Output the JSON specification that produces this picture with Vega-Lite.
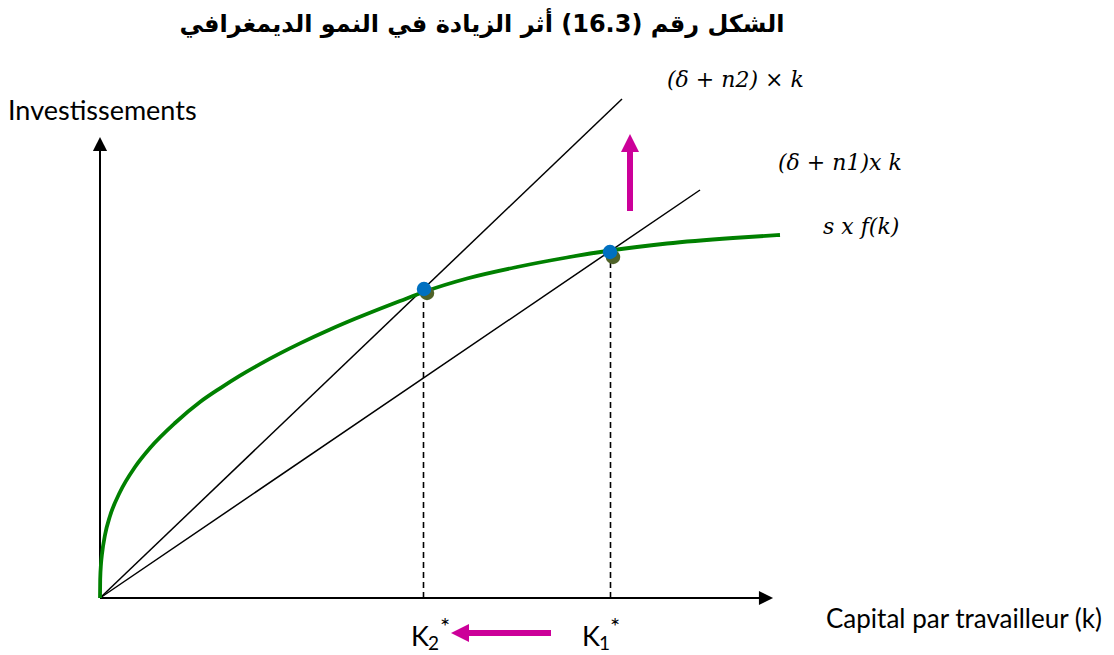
{
  "$schema": "https://vega.github.io/schema/vega-lite/v6.json",
  "width": 1114,
  "height": 655,
  "autosize": {"type": "fit", "contains": "padding"},
  "padding": 0,
  "background": "white",
  "config": {"view": {"stroke": null}},
  "datasets": {
    "curve": [
      {"k": 0, "y": 0}, {"k": 0.2, "y": 18.5}, {"k": 1, "y": 34}, {"k": 2, "y": 44}, {"k": 5, "y": 63},
      {"k": 10, "y": 82}, {"k": 20, "y": 106}, {"k": 35, "y": 131}, {"k": 50, "y": 150},
      {"k": 75, "y": 175}, {"k": 100, "y": 196}, {"k": 120, "y": 209.7}, {"k": 140, "y": 222.4},
      {"k": 160, "y": 233.9}, {"k": 180, "y": 244.6}, {"k": 200, "y": 254.6}, {"k": 230, "y": 268.5},
      {"k": 255, "y": 279.2}, {"k": 280, "y": 289.3}, {"k": 300, "y": 297}, {"k": 325, "y": 306.5},
      {"k": 367, "y": 319.5}, {"k": 417, "y": 331}, {"k": 467, "y": 340.5}, {"k": 510, "y": 347.5},
      {"k": 567, "y": 354.5}, {"k": 633, "y": 360}, {"k": 680, "y": 363}
    ],
    "rays": [
      {"ray": "n2", "k": 0, "y": 0}, {"ray": "n2", "k": 522, "y": 499},
      {"ray": "n1", "k": 0, "y": 0}, {"ray": "n1", "k": 600, "y": 408}
    ],
    "axes": [
      {"k": 0, "y": 0, "k2": 0, "y2": 447},
      {"k": 0, "y": 0, "k2": 659, "y2": 0}
    ],
    "axisHeads": [
      {"k": 0, "y": 454, "dir": "up"},
      {"k": 666, "y": 0, "dir": "right"}
    ],
    "dashes": [
      {"k": 323.5, "y": 0, "k2": 323.5, "y2": 306},
      {"k": 510.5, "y": 0, "k2": 510.5, "y2": 346}
    ],
    "olive": [{"k": 327, "y": 305}, {"k": 513, "y": 341}],
    "blue": [{"k": 324, "y": 309}, {"k": 510, "y": 346}],
    "shafts": [
      {"k": 530, "y": 387, "k2": 530, "y2": 446},
      {"k": 369, "y": -35, "k2": 451, "y2": -35}
    ],
    "magHeads": [
      {"k": 530, "y": 455, "dir": "up"},
      {"k": 360, "y": -35, "dir": "left"}
    ],
    "title": [{"k": 382, "y": 573, "label": "الشكل رقم (16.3) أثر الزيادة في النمو الديمغرافي"}],
    "axisLabelsA": [
      {"k": -92, "y": 486, "label": "Investissements"}
    ],
    "axisLabelsB": [
      {"k": 726, "y": -22, "label": "Capital par travailleur (k)"}
    ],
    "math": [
      {"k": 567, "y": 518, "label": "(δ + n2)  ×  k"},
      {"k": 678, "y": 435, "label": "(δ + n1)x   k"},
      {"k": 723, "y": 371, "label": "s  x   f(k)"}
    ],
    "kMain": [{"k": 311, "y": -40, "label": "K"}, {"k": 482, "y": -40, "label": "K"}],
    "kSub": [{"k": 328, "y": -46, "label": "2"}, {"k": 499, "y": -46, "label": "1"}],
    "kStar": [{"k": 340, "y": -30, "label": "*"}, {"k": 510, "y": -30, "label": "*"}]
  },
  "encoding": {
    "x": {"field": "k", "type": "quantitative", "scale": {"domain": [-100, 1014], "nice": false, "zero": false}, "axis": null},
    "y": {"field": "y", "type": "quantitative", "scale": {"domain": [-57, 598], "nice": false, "zero": false}, "axis": null}
  },
  "layer": [
    {
      "data": {"name": "axes"},
      "mark": {"type": "rule", "color": "black", "strokeWidth": 2},
      "encoding": {"x2": {"field": "k2"}, "y2": {"field": "y2"}}
    },
    {
      "data": {"name": "axisHeads"},
      "mark": {"type": "point", "filled": true, "color": "black", "opacity": 1, "size": 200, "strokeWidth": 0},
      "encoding": {
        "shape": {"field": "dir", "type": "nominal", "legend": null,
          "scale": {"domain": ["up", "right", "left"], "range": ["M-1,1L0,-1L1,1Z", "M-1,-1L1,0L-1,1Z", "M1,-1L-1,0L1,1Z"]}}
      }
    },
    {
      "data": {"name": "dashes"},
      "mark": {"type": "rule", "color": "black", "strokeWidth": 1.6, "strokeDash": [6, 4]},
      "encoding": {"x2": {"field": "k2"}, "y2": {"field": "y2"}}
    },
    {
      "data": {"name": "rays"},
      "mark": {"type": "line", "color": "black", "strokeWidth": 1.5},
      "encoding": {"detail": {"field": "ray", "type": "nominal"}}
    },
    {
      "data": {"name": "curve"},
      "mark": {"type": "line", "color": "#008000", "strokeWidth": 3.8, "interpolate": "monotone"},
      "encoding": {}
    },
    {
      "data": {"name": "olive"},
      "mark": {"type": "circle", "color": "#4F6228", "opacity": 1, "size": 210},
      "encoding": {}
    },
    {
      "data": {"name": "blue"},
      "mark": {"type": "circle", "color": "#0070C0", "opacity": 1, "size": 210},
      "encoding": {}
    },
    {
      "data": {"name": "shafts"},
      "mark": {"type": "rule", "color": "#CC0099", "strokeWidth": 6},
      "encoding": {"x2": {"field": "k2"}, "y2": {"field": "y2"}}
    },
    {
      "data": {"name": "magHeads"},
      "mark": {"type": "point", "filled": true, "color": "#CC0099", "opacity": 1, "size": 324, "strokeWidth": 0},
      "encoding": {
        "shape": {"field": "dir", "type": "nominal", "legend": null,
          "scale": {"domain": ["up", "right", "left"], "range": ["M-1,1L0,-1L1,1Z", "M-1,-1L1,0L-1,1Z", "M1,-1L-1,0L1,1Z"]}}
      }
    },
    {
      "data": {"name": "title"},
      "mark": {"type": "text", "font": "DejaVu Sans", "fontWeight": "bold", "fontSize": 24, "align": "center", "baseline": "middle", "color": "black"},
      "encoding": {"text": {"field": "label"}}
    },
    {
      "data": {"name": "axisLabelsA"},
      "mark": {"type": "text", "font": "Lato", "fontSize": 27, "align": "left", "baseline": "middle", "color": "black"},
      "encoding": {"text": {"field": "label"}}
    },
    {
      "data": {"name": "axisLabelsB"},
      "mark": {"type": "text", "font": "Lato", "fontSize": 26, "align": "left", "baseline": "middle", "color": "black"},
      "encoding": {"text": {"field": "label"}}
    },
    {
      "data": {"name": "math"},
      "mark": {"type": "text", "font": "DejaVu Serif", "fontStyle": "italic", "fontSize": 22, "align": "left", "baseline": "middle", "color": "black"},
      "encoding": {"text": {"field": "label"}}
    },
    {
      "data": {"name": "kMain"},
      "mark": {"type": "text", "font": "Lato", "fontSize": 27, "align": "left", "baseline": "middle", "color": "black"},
      "encoding": {"text": {"field": "label"}}
    },
    {
      "data": {"name": "kSub"},
      "mark": {"type": "text", "font": "Lato", "fontSize": 19, "align": "left", "baseline": "middle", "color": "black"},
      "encoding": {"text": {"field": "label"}}
    },
    {
      "data": {"name": "kStar"},
      "mark": {"type": "text", "font": "Lato", "fontSize": 24, "align": "left", "baseline": "middle", "color": "black"},
      "encoding": {"text": {"field": "label"}}
    }
  ]
}
